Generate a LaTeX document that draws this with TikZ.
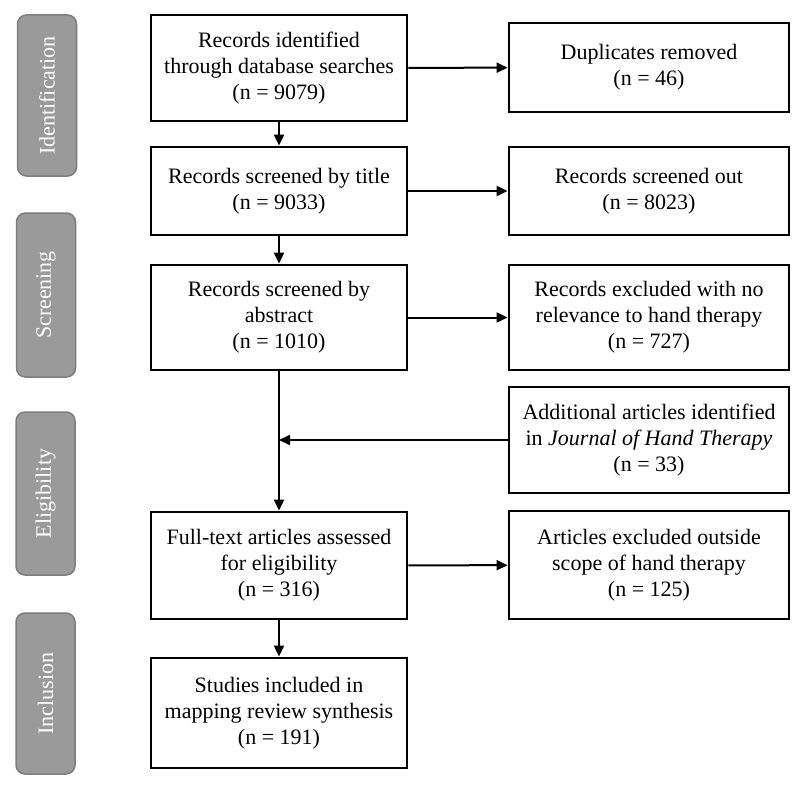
\documentclass[tikz,border=0pt]{standalone}
\usepackage{fontspec}
\setmainfont{Liberation Serif}
\usetikzlibrary{arrows.meta}
\definecolor{stagefill}{RGB}{154,154,154}
\definecolor{stageline}{RGB}{125,125,125}

\begin{document}
\begin{tikzpicture}
[every node/.style={inner sep=0pt, align=center, font=\fontsize{22}{26}\selectfont},
 box/.style={rectangle, draw=black, line width=2.8pt, fill=white},
 stage/.style={rectangle, rounded corners=9pt, fill=stagefill, draw=stageline, line width=1.5pt, text=white, minimum height=59pt, rotate=90},
 flow/.style={line width=2pt, -{Triangle[length=11pt, width=10pt]}, color=black}]
\useasboundingbox (0pt, 0pt) rectangle (800pt, -784pt);
\node (ident) [stage, minimum width=161pt] at (47pt, -95.5pt) {Identification};
\node (screen) [stage, minimum width=164pt] at (46pt, -295pt) {Screening};
\node (elig) [stage, minimum width=163pt] at (45.5pt, -493.5pt) {Eligibility};
\node (incl) [stage, minimum width=161pt] at (45.5pt, -693.5pt) {Inclusion};
\node (found) [box, minimum width=256pt, minimum height=106pt] at (279pt, -68pt) {Records identified\\through database searches\\(n = 9079)};
\node (title) [box, minimum width=256pt, minimum height=88pt] at (279pt, -191pt) {Records screened by title\\(n = 9033)};
\node (abstract) [box, minimum width=256pt, minimum height=105pt] at (279pt, -317.5pt) {Records screened by\\abstract\\(n = 1010)};
\node (fulltext) [box, minimum width=256pt, minimum height=107pt] at (279pt, -565.5pt) {Full-text articles assessed\\for eligibility\\(n = 316)};
\node (included) [box, minimum width=256pt, minimum height=110pt] at (279pt, -713pt) {Studies included in\\mapping review synthesis\\(n = 191)};
\node (dupl) [box, minimum width=280pt, minimum height=89pt] at (649pt, -67.5pt) {Duplicates removed\\(n = 46)};
\node (out) [box, minimum width=280pt, minimum height=88pt] at (649pt, -191pt) {Records screened out\\(n = 8023)};
\node (norel) [box, minimum width=280pt, minimum height=105pt] at (649pt, -317.5pt) {Records excluded with no\\relevance to hand therapy\\(n = 727)};
\node (extra) [box, minimum width=280pt, minimum height=106pt] at (649pt, -440pt) {Additional articles identified\\in \textit{Journal of Hand Therapy}\\(n = 33)};
\node (scope) [box, minimum width=280pt, minimum height=108pt] at (649pt, -565pt) {Articles excluded outside\\scope of hand therapy\\(n = 125)};
\coordinate (join) at (abstract.south |- extra.west);
\draw [flow] (found) to (title);
\draw [flow] (title) to (abstract);
\draw [flow] (abstract) to (fulltext);
\draw [flow] (fulltext) to (included);
\draw [flow] (found) to (dupl);
\draw [flow] (title) to (out);
\draw [flow] (abstract) to (norel);
\draw [flow] (extra) to (join);
\draw [flow] (fulltext) to (scope);
\end{tikzpicture}
\end{document}
